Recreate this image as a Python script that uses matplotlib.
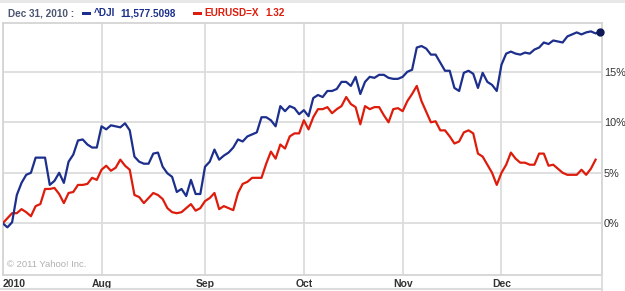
import matplotlib
matplotlib.use("Agg")
import matplotlib.pyplot as plt
from matplotlib.lines import Line2D
from matplotlib.patches import Rectangle
import pandas as pd

# trading days, Jul 1 - Dec 31 2010 (NYSE holidays removed)
holidays = ["2010-07-05", "2010-09-06", "2010-11-25", "2010-12-24"]
dates = pd.bdate_range("2010-07-01", "2010-12-31")
dates = dates[~dates.isin(pd.to_datetime(holidays))]

# % change since Jul 1
dji = [0.0, -0.4, 0.1, 2.8, 4.0, 4.8, 5.0, 6.5, 6.5, 6.5,
       3.8, 4.2, 5.0, 4.0, 6.1, 6.8, 8.2, 8.3, 7.8, 7.5,
       7.5, 9.6, 9.3, 9.7, 9.6, 9.5, 9.9, 9.2, 6.6, 6.1,
       5.9, 5.9, 6.9, 7.0, 5.6, 4.95, 4.6, 3.1, 3.4, 2.7,
       4.3, 2.9, 2.9, 5.6, 6.1, 7.3, 6.3, 6.7, 7.0, 7.5,
       8.3, 8.1, 8.6, 8.8, 9.0, 10.5, 10.5, 10.2, 9.6, 11.6,
       11.1, 11.6, 11.4, 10.8, 11.2, 10.6, 12.4, 12.7, 12.5, 13.1,
       13.1, 13.3, 14.0, 14.0, 13.6, 14.5, 12.8, 14.0, 14.5, 14.4,
       14.7, 14.7, 14.4, 14.3, 14.3, 14.5, 15.0, 15.2, 17.4, 17.55,
       17.3, 16.7, 16.7, 15.9, 15.1, 15.1, 13.4, 13.1, 14.9, 15.1,
       14.8, 13.4, 14.9, 14.0, 13.7, 13.1, 15.7, 16.8, 17.0, 16.8,
       16.7, 16.9, 16.8, 17.2, 17.4, 17.9, 17.75, 18.1, 18.0, 17.9,
       18.5, 18.7, 18.9, 18.7, 18.9, 19.0, 18.8, 18.95]

eurusd = [0.0, 0.5, 1.0, 1.0, 1.4, 1.1, 0.7, 1.7, 1.9, 3.4,
          3.4, 3.5, 2.9, 2.0, 3.0, 3.1, 3.8, 3.8, 3.9, 4.5,
          4.3, 5.3, 5.7, 5.2, 5.5, 6.3, 5.7, 5.3, 2.8, 2.6,
          2.0, 2.5, 3.0, 2.8, 2.4, 1.5, 1.1, 1.0, 1.1, 1.5,
          1.9, 1.25, 1.5, 2.2, 2.5, 3.0, 1.4, 1.7, 1.5, 1.3,
          3.0, 3.9, 4.1, 4.5, 4.5, 4.5, 5.9, 7.1, 6.4, 7.8,
          7.4, 8.6, 8.9, 8.9, 10.2, 9.3, 10.5, 11.3, 11.3, 11.5,
          10.9, 11.3, 11.6, 12.5, 11.8, 11.5, 9.8, 11.6, 11.3, 11.5,
          11.5, 10.7, 10.0, 11.3, 11.4, 11.1, 12.1, 12.8, 13.6, 12.1,
          11.05, 10.0, 10.1, 9.2, 9.2, 8.6, 7.9, 8.1, 9.0, 9.2,
          8.9, 6.9, 6.6, 5.8, 5.0, 3.8, 5.0, 5.8, 7.0, 6.4,
          6.0, 6.0, 5.8, 5.8, 6.9, 6.9, 5.7, 5.8, 5.4, 5.0,
          4.8, 4.8, 4.8, 5.3, 4.8, 5.4, 6.3]

yticks = [0, 5, 10, 15]
ytick_labels = ["0%", "5%", "10%", "15%"]

navy = "#1c2f8c"
red = "#dd1c0c"
grid_c = "#dcdcdc"
text_c = "#333333"
font = "Liberation Sans"

fig = plt.figure(figsize=(6.25, 2.91), dpi=100)
W, H = 625, 291
ax = fig.add_axes([2.7 / W, 1 - 275 / H, 599 / W, (275 - 22.7) / H])

ax.plot(range(len(eurusd)), eurusd, color=red, lw=1.6, zorder=3)
ax.plot(range(len(dji)), dji, color=navy, lw=1.6, zorder=4)
ax.plot(len(dji) - 1, dji[-1], "o", color="#0d1a55", ms=5, zorder=5, clip_on=False)

ax.set_xlim(0, 127.3)
ax.set_ylim(-5.12, 19.86)

# month starts as tick positions
month_pos = [i for i in range(len(dates)) if i == 0 or dates[i].month != dates[i - 1].month]
month_lab = ["2010" if i == 0 else dates[i].strftime("%b") for i in month_pos]
ax.set_xticks(month_pos)
ax.set_xticklabels(month_lab, fontsize=7.5, fontweight="bold", color=text_c, family=font)
ax.get_xticklabels()[0].set_horizontalalignment("left")
ax.tick_params(axis="x", length=0, pad=3)

ax.yaxis.tick_right()
ax.set_yticks(yticks)
ax.set_yticklabels(ytick_labels, fontsize=7.8, color=text_c, family=font)
ax.tick_params(axis="y", length=0, pad=1.5)

ax.grid(True, color=grid_c, lw=1.3)
ax.set_axisbelow(True)
for s in ax.spines.values():
    s.set_color("#d4d4d4")
    s.set_linewidth(1.3)

ax.text(0.007, 0.03, "\u00a9 2011 Yahoo! Inc.", transform=ax.transAxes,
        fontsize=6.8, color="#b0b0b0", family=font)

# header strip
fig.add_artist(Rectangle((0, 1 - 3 / H), 1, 3 / H, transform=fig.transFigure,
                         color="#e8e8e8", lw=0))
hdr = dict(fontsize=7.2, fontweight="bold", va="center", family=font)
fig.text(8 / W, 1 - 13.5 / H, "Dec 31, 2010 :", color="#4b5670", **hdr)
fig.add_artist(Rectangle((82 / W, 1 - 15 / H), 9 / W, 3.5 / H,
                         transform=fig.transFigure, color=navy, lw=0))
fig.text(94 / W, 1 - 13.5 / H, "^DJI", color=navy, **hdr)
fig.text(120 / W, 1 - 13.5 / H, "11,577.5098", color=navy, **hdr)
fig.add_artist(Rectangle((193 / W, 1 - 15 / H), 9 / W, 3.5 / H,
                         transform=fig.transFigure, color=red, lw=0))
fig.text(204 / W, 1 - 13.5 / H, "EURUSD=X", color=red, **hdr)
fig.text(265 / W, 1 - 13.5 / H, "1.32", color=red, **hdr)

# bottom strip lines
fig.add_artist(Line2D([0, 601.7 / W], [1 - 288.5 / H] * 2, transform=fig.transFigure,
                      color="#dcdcdc", lw=1.5))
fig.add_artist(Line2D([601.7 / W] * 2, [0, 1 - 275 / H], transform=fig.transFigure,
                      color="#dcdcdc", lw=1.3))

fig.savefig("out.png", dpi=100)
